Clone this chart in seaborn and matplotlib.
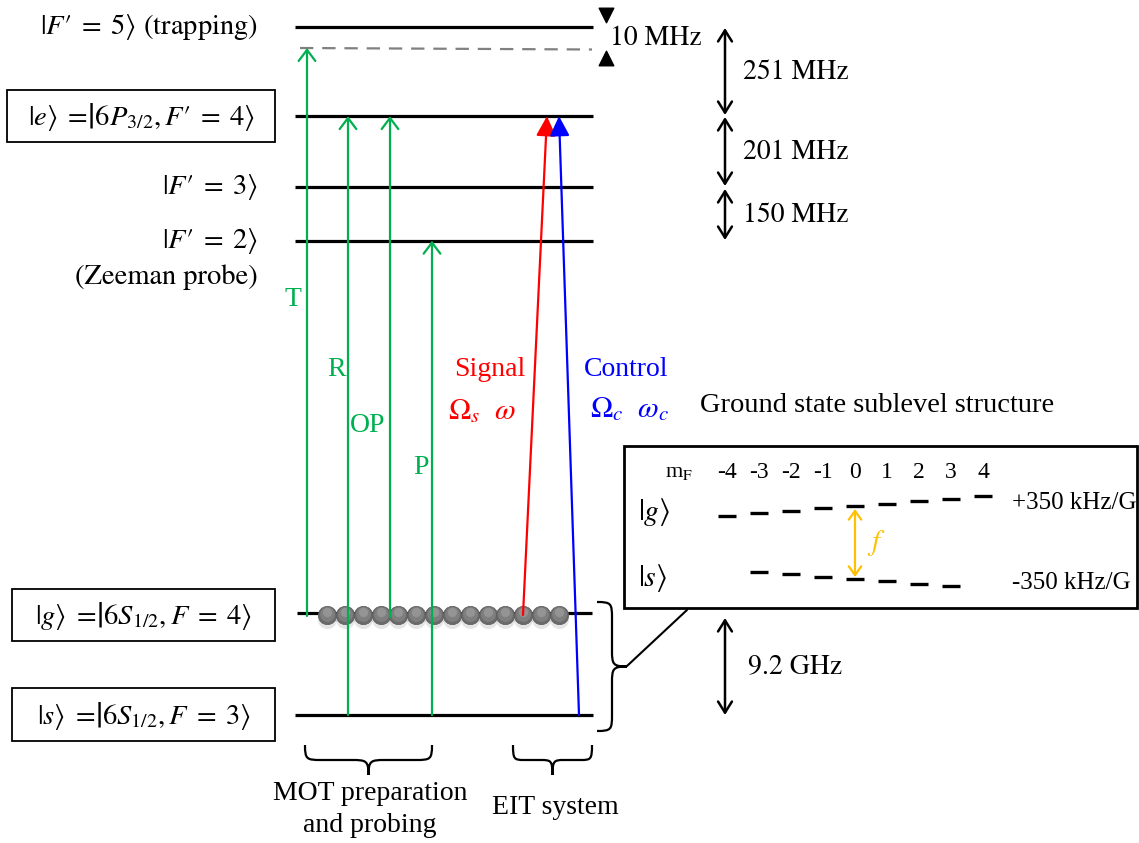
import numpy as np
import matplotlib
matplotlib.use("Agg")
import matplotlib.pyplot as plt
from matplotlib.patches import Rectangle, PathPatch
from matplotlib.path import Path
import pandas as pd
import seaborn as sns

# ---------------------------------------------------------------- data
# Cs D2 excited hyperfine manifold, listed from F'=5 downward
excited_labels = [r"$|F′\;=\;5\rangle$ (trapping)", None, r"$|F′\;=\;3\rangle$", r"$|F′\;=\;2\rangle$"]
excited_splittings_mhz = [251, 201, 150]
trap_detuning_mhz = 10
ground_splitting_ghz = 9.2

# Zeeman sublevels of the two ground states
mf_g = [-4, -3, -2, -1, 0, 1, 2, 3, 4]
mf_s = [-3, -2, -1, 0, 1, 2, 3]
zeeman_khz_per_gauss = {"g": 350, "s": -350}

n_atoms = 14

# ---------------------------------------------------------------- style
sns.set_theme(style="white")
plt.rcParams["font.family"] = ["STIXGeneral", "DejaVu Sans"]
plt.rcParams["mathtext.fontset"] = "stix"
plt.rcParams["text.color"] = "black"
TIMES = ["Liberation Serif", "DejaVu Serif"]
CAMB = ["STIXGeneral", "DejaVu Serif"]

GREEN = "#00b050"
RED = "#ff0000"
BLUE = "#0000ff"
ORANGE = "#ffc000"

fig = plt.figure(figsize=(11.39, 8.43), dpi=100)
ax = fig.add_axes([0, 0, 1, 1])
ax.set_xlim(0, 1139)
ax.set_ylim(843, 0)
ax.axis("off")

# ---------------------------------------------------------------- levels
px_per_mhz = 0.355
y_f5 = 27
y_exc = [y_f5] + list(y_f5 + px_per_mhz * np.cumsum(excited_splittings_mhz))
y_e = y_exc[1]
y_trap = y_f5 + 2.1 * trap_detuning_mhz
y_g, y_s = 613, 715
x0, x1 = 295, 593
lvl_lw = 2.3

for y in y_exc:
    ax.plot([x0, x1], [y, y], color="black", lw=lvl_lw, solid_capstyle="butt", zorder=2)
ax.plot([x0 + 2, x1 - 1], [y_g, y_g], color="black", lw=lvl_lw, solid_capstyle="butt", zorder=2)
ax.plot([x0, x1], [y_s, y_s], color="black", lw=lvl_lw, solid_capstyle="butt", zorder=2)
ax.plot([300, 592], [y_trap, y_trap + 1.5], color="#808080", lw=1.6,
        dashes=(6, 4), zorder=2)

# left-hand state labels
for lab, y in zip(excited_labels, y_exc):
    if lab:
        ax.text(258, y, lab, ha="right", va="center", fontsize=20.5, family=CAMB)
ax.text(258, y_exc[3] + 36, "(Zeeman probe)", ha="right", va="center", fontsize=20.5, family=CAMB)

boxed = [
    (7, 90, 268, 52, y_e, r"$|e\rangle\;=\!\left|6P_{3/2},F′\;=\;4\right\rangle$"),
    (12, 589, 263, 52, y_g, r"$|g\rangle\;=\!\left|6S_{1/2},F\;=\;4\right\rangle$"),
    (12, 688, 263, 53, y_s, r"$|s\rangle\;=\!\left|6S_{1/2},F\;=\;3\right\rangle$"),
]
for bx, by, bw, bh, yc, lab in boxed:
    ax.add_patch(Rectangle((bx, by), bw, bh, fill=False, ec="black", lw=1.3, zorder=3))
    ax.text(bx + bw / 2, by + bh / 2 + 1, lab, ha="center", va="center", fontsize=20.5, family=CAMB)

# ---------------------------------------------------------------- atoms on |g>
atom_x = np.linspace(327, 559, n_atoms)
atoms = pd.DataFrame({"x": atom_x, "y": np.full(n_atoms, y_g + 2.0)})
sns.scatterplot(data=atoms.assign(y=atoms.y + 4), x="x", y="y", s=190, color="black",
                alpha=0.10, linewidth=0, ax=ax, zorder=3, legend=False)
sns.scatterplot(data=atoms, x="x", y="y", s=175, color="#6a6a6a", edgecolor="#5c5c5c",
                linewidth=0.5, ax=ax, zorder=3.1, legend=False)
sns.scatterplot(data=atoms.assign(y=atoms.y - 1.2), x="x", y="y", s=115, color="#7e7e7e",
                linewidth=0, ax=ax, zorder=3.2, legend=False)
sns.scatterplot(data=atoms.assign(y=atoms.y - 3.0), x="x", y="y", s=45,
                color="#979797", linewidth=0, alpha=0.9, ax=ax, zorder=3.3, legend=False)


# ---------------------------------------------------------------- laser arrows
def arrow(p_from, p_to, color, style, lw=1.6, ms=20, z=4):
    ax.annotate("", xy=p_to, xytext=p_from,
                arrowprops=dict(arrowstyle=style, color=color, lw=lw, shrinkA=0, shrinkB=0,
                                mutation_scale=ms), zorder=z)


open_head = "->,head_length=0.4,head_width=0.3"
solid_head = "-|>,head_length=0.6,head_width=0.3"
arrow((307, y_g + 3), (307, y_trap), GREEN, open_head)
arrow((348, y_s), (348, y_e), GREEN, open_head)
arrow((390, y_g + 4), (390, y_e), GREEN, open_head)
arrow((432, y_s), (432, y_exc[3]), GREEN, open_head)
arrow((523, y_g + 2), (547, y_e), RED, solid_head)
arrow((579, y_s), (559, y_e), BLUE, solid_head)

for txt, x, y in [("T", 293, 300), ("R", 337, 370), ("OP", 368, 425), ("P", 421, 468)]:
    ax.text(x, y, txt, color=GREEN, ha="center", va="center", fontsize=20, family=TIMES)

ax.text(490, 370, "Signal", color=RED, ha="center", va="center", fontsize=20, family=TIMES)
ax.text(482, 412, r"$\Omega_s\ \ \omega$", color=RED, ha="center", va="center", fontsize=21.5)
ax.text(626, 370, "Control", color=BLUE, ha="center", va="center", fontsize=20, family=TIMES)
ax.text(630, 410, r"$\Omega_c\ \ \omega_c$", color=BLUE, ha="center", va="center", fontsize=21.5)

# ---------------------------------------------------------------- splittings
dbl = "<->,head_length=0.4,head_width=0.25"
ax.scatter([606], [15], marker="v", s=110, color="black", zorder=4)
ax.scatter([606], [58], marker="^", s=110, color="black", zorder=4)
ax.text(610, 38, f"{trap_detuning_mhz} MHz", ha="left", va="center", fontsize=20, family=CAMB)

bounds = [(28, 115), (117, 186), (189, 240)]
for (ya, yb), mhz in zip(bounds, excited_splittings_mhz):
    arrow((725, yb), (725, ya), "black", dbl, lw=1.8, ms=20)
    ax.text(743, (ya + yb) / 2 + 1, f"{mhz} MHz", ha="left", va="center", fontsize=20, family=CAMB)

arrow((725, 715), (725, 618), "black", dbl, lw=1.8, ms=20)
ax.text(748, 667, f"{ground_splitting_ghz} GHz", ha="left", va="center", fontsize=20, family=CAMB)


# ---------------------------------------------------------------- braces
def brace(p0, p1, depth, lw=1.6):
    p0 = np.asarray(p0, float)
    p1 = np.asarray(p1, float)
    L = np.linalg.norm(p1 - p0)
    e = (p1 - p0) / L
    n = np.array([-e[1], e[0]])
    if n[0] < 0 or n[1] < 0:
        n = -n
    m, h = L / 2, depth / 2
    a = min(0.14 * L, 16)
    uv = [(0, 0),
          (0, h * 0.95), (a * 0.1, h), (a, h),
          (m - a, h),
          (m - a * 0.15, h), (m, h * 1.05), (m, depth),
          (m, h * 1.05), (m + a * 0.15, h), (m + a, h),
          (L - a, h),
          (L - a * 0.1, h), (L, h * 0.95), (L, 0)]
    codes = ([Path.MOVETO] + [Path.CURVE4] * 3 + [Path.LINETO] + [Path.CURVE4] * 6
             + [Path.LINETO] + [Path.CURVE4] * 3)
    verts = [p0 + u * e + v * n for u, v in uv]
    ax.add_patch(PathPatch(Path(verts, codes), fill=False, ec="black", lw=lw, zorder=3))


brace((305, 745), (432, 745), 30)
brace((513, 745), (592, 745), 30)
brace((597, 602), (597, 731), 30)
ax.plot([627, 687], [666, 610], color="black", lw=1.5, zorder=3)

ax.text(370, 793, "MOT preparation", ha="center", va="center", fontsize=20, family=TIMES)
ax.text(370, 825, "and probing", ha="center", va="center", fontsize=20, family=TIMES)
ax.text(555, 808, "EIT system", ha="center", va="center", fontsize=20, family=TIMES)

# ---------------------------------------------------------------- Zeeman inset
ax.text(700, 405, "Ground state sublevel structure", ha="left", va="center",
        fontsize=20.5, family=TIMES)
ax.add_patch(Rectangle((624, 446), 513, 162, fill=False, ec="black", lw=2.0, zorder=3))

col_x0, col_dx = 855, 32
px_per_khz = 2.4 / 350
ax.text(665, 473, r"m$_\mathrm{F}$", ha="left", va="center", fontsize=16, family=TIMES)
for m in mf_g:
    ax.text(col_x0 + col_dx * m, 473, f"{m}", ha="center", va="center", fontsize=17, family=TIMES)

zdash = []
for state, mfs, y0 in [("g", mf_g, 506), ("s", mf_s, 579)]:
    for m in mfs:
        zdash.append({"state": state, "x": col_x0 + col_dx * m,
                      "y": y0 - m * zeeman_khz_per_gauss[state] * px_per_khz})
zdash = pd.DataFrame(zdash)
sns.scatterplot(data=zdash, x="x", y="y", marker="_", s=150, color="black",
                linewidth=2.4, ax=ax, zorder=4, legend=False)

ax.text(638, 512, r"$|g\rangle$", ha="left", va="center", fontsize=21.5)
ax.text(638, 578, r"$|s\rangle$", ha="left", va="center", fontsize=21.5)
ax.text(1012, 503, f"+{zeeman_khz_per_gauss['g']} kHz/G", ha="left", va="center",
        fontsize=18, family=TIMES)
ax.text(1012, 583, f"{zeeman_khz_per_gauss['s']} kHz/G", ha="left", va="center",
        fontsize=18, family=TIMES)

arrow((855, 577), (855, 509), ORANGE, "<->,head_length=0.35,head_width=0.25", lw=1.6, ms=18)
ax.text(876, 543, r"$f$", color=ORANGE, ha="center", va="center", fontsize=21)

fig.savefig("out.png", dpi=100, facecolor="white")
